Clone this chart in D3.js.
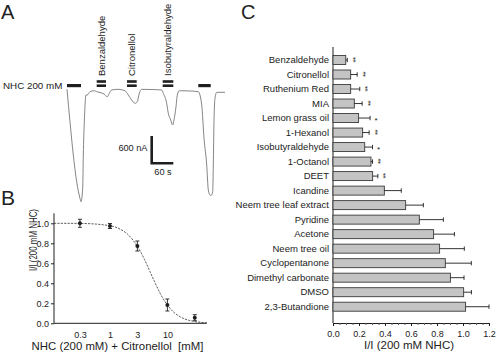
<!DOCTYPE html>
<html>
<head>
<meta charset="utf-8">
<script src="https://cdn.jsdelivr.net/npm/d3@7"></script>
<style>
  html, body { margin: 0; padding: 0; background: #fff; }
  svg { display: block; }
  text { font-family: "Liberation Sans", Arial, Helvetica, sans-serif; fill: #222; }
</style>
</head>
<body>
<svg id="fig" width="500" height="355"></svg>
<script>
// ---------------- Panel A: recording trace ----------------
const traceTime = [0, 8.3, 17.5, 26.9, 36.1, 38.9, 43.6, 45.3, 48.1, 52.8, 56.4, 63.9, 75.8, 82.5, 91.7, 102.8, 111.9, 117.5, 124.2, 141.7, 161.1, 170.3, 179.7, 188.9, 195.3, 200.8, 207.5, 230.6, 263.1, 267.5, 276.9, 281.4, 288.1, 293.6, 297.2, 302.8, 306.4, 311.9, 341.7, 364.7, 374.2, 380.6, 388.1, 392.5, 397.2, 400, 404.7, 406.4, 408.3, 411.1, 415.8, 438.9];
const traceCurrent = [0, -712, -1444, -2031, -2396, -2470, -2169, -1444, -712, -125, -125, -53, -31, -53, -70, -103, -163, -88, -15, 0, -31, -125, -235, -308, -273, -88, 0, -4, -15, -88, -308, -527, -675, -785, -675, -382, -125, -31, -37, -53, -345, -1077, -1664, -2213, -2323, -2334, -2250, -1664, -712, -198, -66, -66];
const stimNames = ["NHC 200 mM", "Benzaldehyde", "Citronellol", "Isobutyraldehyde", "NHC"];
const stimStart = [0, 82.5, 166.7, 265.8, 364.7];
const stimEnd = [38.9, 108.3, 193.6, 295.3, 399.2];
const stimDouble = [false, true, true, true, false];
const scaleBarCurrent = 600; // nA
const scaleBarTime = 60;     // s

// ---------------- Panel B: dose response ----------------
const citronellolConc = [0.3, 1, 3, 10, 30];
const relCurrent = [1.0, 0.973, 0.773, 0.183, 0.056];
const relCurrentErr = [0.04, 0.025, 0.05, 0.06, 0.03];
const fitConc = [0.106, 0.3, 1, 1.5, 2, 3, 4, 5, 6, 7, 8, 10, 13, 16, 20, 30, 48.4];
const fitValue = [1.0, 0.999, 0.976, 0.942, 0.894, 0.77, 0.638, 0.515, 0.414, 0.332, 0.269, 0.183, 0.109, 0.071, 0.044, 0.018, 0.006];
const bYTicks = [0, 0.2, 0.4, 0.6, 0.8, 1.0];
const bXTicks = [0.3, 1, 3, 10];

// ---------------- Panel C: compound screen ----------------
const compounds = ["Benzaldehyde", "Citronellol", "Ruthenium Red", "MIA", "Lemon grass oil", "1-Hexanol", "Isobutyraldehyde", "1-Octanol", "DEET", "Icandine", "Neem tree leaf extract", "Pyridine", "Acetone", "Neem tree oil", "Cyclopentanone", "Dimethyl carbonate", "DMSO", "2,3-Butandione"];
const ratioValues = [0.098, 0.136, 0.136, 0.164, 0.197, 0.228, 0.244, 0.292, 0.305, 0.395, 0.559, 0.664, 0.774, 0.82, 0.864, 0.903, 1.005, 1.02];
const ratioErrors = [0.012, 0.05, 0.07, 0.06, 0.088, 0.05, 0.06, 0.012, 0.04, 0.13, 0.136, 0.185, 0.16, 0.19, 0.2, 0.105, 0.06, 0.18];
const significance = ["**", "**", "**", "**", "*", "**", "*", "**", "**", "", "", "", "", "", "", "", "", ""];
const cXTicks = [0, 0.2, 0.4, 0.6, 0.8, 1.0, 1.2];

const svg = d3.select("#fig");
const ink = "#1e1e1e";

// ===== Panel letters =====
svg.append("text").attr("x", 1).attr("y", 19).attr("font-size", 20).text("A");
svg.append("text").attr("x", 1).attr("y", 205).attr("font-size", 21).text("B");
svg.append("text").attr("x", 241).attr("y", 19).attr("font-size", 20).text("C");

// ===== Panel A =====
const xA = d3.scaleLinear().domain([0, 60]).range([67, 88.6]);
const yA = d3.scaleLinear().domain([0, -600]).range([89.3, 116.6]);
const gA = svg.append("g");
const traceData = traceTime.map((t, i) => [t, traceCurrent[i]]);
gA.append("path")
  .attr("d", d3.line().x(d => xA(d[0])).y(d => yA(d[1])).curve(d3.curveMonotoneX)(traceData))
  .attr("fill", "none").attr("stroke", "#666").attr("stroke-width", 0.8);

stimStart.forEach((s, i) => {
  const x0 = xA(s), w = xA(stimEnd[i]) - xA(s);
  if (stimDouble[i]) {
    gA.append("rect").attr("x", x0).attr("y", 80.2).attr("width", w).attr("height", 2.6).attr("fill", ink);
    gA.append("rect").attr("x", x0).attr("y", 84.4).attr("width", w).attr("height", 2.6).attr("fill", ink);
    const cx = x0 + w / 2 + 3.4;
    gA.append("text").attr("transform", `translate(${cx},76) rotate(-90)`)
      .attr("font-size", 9.5).text(stimNames[i]);
  } else {
    gA.append("rect").attr("x", x0).attr("y", 84).attr("width", w).attr("height", 3.2).attr("fill", ink);
  }
});
gA.append("text").attr("x", 3).attr("y", 89.3).attr("font-size", 9.8).text(stimNames[0]);

// scale bar
const sbX = 151.7, sbY = 163.3;
const sbH = yA(-scaleBarCurrent) - yA(0);
const sbW = xA(scaleBarTime) - xA(0);
gA.append("path").attr("d", `M${sbX},${sbY - sbH} L${sbX},${sbY} L${sbX + sbW},${sbY}`)
  .attr("fill", "none").attr("stroke", ink).attr("stroke-width", 2.6);
gA.append("text").attr("x", 147.5).attr("y", 150.5).attr("text-anchor", "end").attr("font-size", 9.2).text(scaleBarCurrent + " nA");
gA.append("text").attr("x", 163).attr("y", 175).attr("text-anchor", "middle").attr("font-size", 9.2).text(scaleBarTime + " s");

// ===== Panel B =====
const xB = d3.scaleLog().domain([0.106, 48.4]).range([54, 206.7]);
const yB = d3.scaleLinear().domain([0, 1.1]).range([323.3, 213.3]);
const gB = svg.append("g");
const axLB = gB.append("g").attr("transform", "translate(54,0)")
  .call(d3.axisLeft(yB).tickValues(bYTicks).tickSize(3).tickPadding(2).tickFormat(d3.format(".1f")));
const axBB = gB.append("g").attr("transform", "translate(0,323.3)")
  .call(d3.axisBottom(xB).tickValues(bXTicks).tickSize(0).tickPadding(8).tickFormat(d => String(d)));
[axLB, axBB].forEach(a => {
  a.selectAll("path.domain").attr("stroke", ink).attr("stroke-width", 1);
  a.selectAll("line").attr("stroke", ink);
  a.selectAll("text").attr("font-size", 9).attr("font-family", "Liberation Sans, Arial, sans-serif").attr("fill", ink);
});
axLB.select("path.domain").attr("d", "M0,323.3V213.3");
axBB.select("path.domain").attr("d", "M54,0H206.7");

const fitData = fitConc.map((c, i) => [c, fitValue[i]]);
gB.append("path")
  .attr("d", d3.line().x(d => xB(d[0])).y(d => yB(d[1])).curve(d3.curveMonotoneX)(fitData))
  .attr("fill", "none").attr("stroke", "#333").attr("stroke-width", 0.8).attr("stroke-dasharray", "2.2,1.2");
citronellolConc.forEach((c, i) => {
  const x = xB(c), y1 = yB(relCurrent[i] + relCurrentErr[i]), y2 = yB(relCurrent[i] - relCurrentErr[i]);
  gB.append("line").attr("x1", x).attr("x2", x).attr("y1", y1).attr("y2", y2).attr("stroke", ink).attr("stroke-width", 0.9);
  gB.append("line").attr("x1", x - 2).attr("x2", x + 2).attr("y1", y1).attr("y2", y1).attr("stroke", ink).attr("stroke-width", 0.9);
  gB.append("line").attr("x1", x - 2).attr("x2", x + 2).attr("y1", y2).attr("y2", y2).attr("stroke", ink).attr("stroke-width", 0.9);
  gB.append("circle").attr("cx", x).attr("cy", yB(relCurrent[i])).attr("r", 2).attr("fill", ink);
});
gB.append("text").attr("transform", "translate(36.5,240) rotate(-90)").attr("text-anchor", "middle")
  .attr("font-size", 10.8).attr("textLength", 62).attr("lengthAdjust", "spacingAndGlyphs").text("I/I (200 mM NHC)");
gB.append("text").attr("x", 117.5).attr("y", 349.5).attr("text-anchor", "middle").attr("font-size", 11.4)
  .text("NHC (200 mM) + Citronellol  [mM]").attr("xml:space", "preserve");

// ===== Panel C =====
const xC = d3.scaleLinear().domain([0, 1.2]).range([333, 489]);
const yC = d3.scaleBand().domain(compounds).range([52.74, 313.96]).paddingInner(0.38).paddingOuter(0.19);
const gC = svg.append("g");
const axCX = gC.append("g").attr("transform", "translate(0,323)")
  .call(d3.axisBottom(xC).tickValues(cXTicks).tickSize(3).tickPadding(4.6).tickFormat(d3.format(".1f")));
axCX.selectAll("text").attr("font-size", 9).attr("font-family", "Liberation Sans, Arial, sans-serif").attr("fill", "#333");
axCX.selectAll("line").attr("stroke", ink);
axCX.select("path.domain").attr("stroke", ink);
const minorTicks = d3.range(0.05, 1.2, 0.05).filter(v => Math.abs(v * 5 - Math.round(v * 5)) > 1e-6);
gC.append("g").attr("transform", "translate(0,323)")
  .call(d3.axisBottom(xC).tickValues(minorTicks).tickSize(2).tickFormat(""))
  .call(a => a.select("path.domain").remove())
  .selectAll("line").attr("stroke", "#555");

gC.append("line").attr("x1", 333).attr("x2", 333).attr("y1", 47).attr("y2", 323).attr("stroke", ink).attr("stroke-width", 1);
const axCY = gC.append("g").attr("transform", "translate(333,0)")
  .call(d3.axisLeft(yC).tickSize(0).tickPadding(4));
axCY.select("path.domain").remove();
axCY.selectAll("text").attr("font-size", 9.5).attr("font-family", "Liberation Sans, Arial, sans-serif").attr("fill", ink);

compounds.forEach((c, i) => {
  const y = yC(c), h = yC.bandwidth(), cy = y + h / 2;
  gC.append("rect").attr("x", xC(0)).attr("y", y).attr("width", xC(ratioValues[i]) - xC(0)).attr("height", h)
    .attr("fill", "#c4c4c4").attr("stroke", "#3a3a3a").attr("stroke-width", 0.9);
  const xe = xC(ratioValues[i] + ratioErrors[i]);
  gC.append("line").attr("x1", xC(ratioValues[i])).attr("x2", xe).attr("y1", cy).attr("y2", cy).attr("stroke", ink).attr("stroke-width", 0.9);
  gC.append("line").attr("x1", xe).attr("x2", xe).attr("y1", cy - 2.2).attr("y2", cy + 2.2).attr("stroke", ink).attr("stroke-width", 0.9);
  const s = significance[i];
  if (s === "**") {
    // two asterisks stacked vertically: the text is turned a quarter turn
    gC.append("text").attr("transform", `translate(${xe + 10.4},${cy}) rotate(-90)`)
      .attr("text-anchor", "middle").attr("font-size", 8).attr("letter-spacing", -0.6).text("**");
  } else if (s === "*") {
    gC.append("text").attr("x", xe + 6).attr("y", cy + 4.6).attr("text-anchor", "middle").attr("font-size", 8).text("*");
  }
});
gC.append("text").attr("x", 409).attr("y", 349).attr("text-anchor", "middle").attr("font-size", 11.5).text("I/I (200 mM NHC)");
</script>
</body>
</html>
